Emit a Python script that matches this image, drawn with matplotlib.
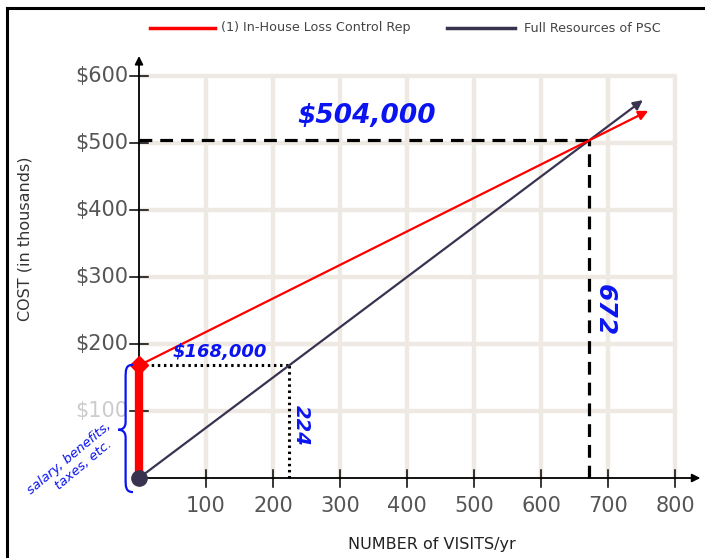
import numpy as np
import matplotlib.pyplot as plt
from matplotlib.lines import Line2D
from matplotlib.path import Path
from matplotlib.patches import PathPatch

# chart values
x_ticks = [100, 200, 300, 400, 500, 600, 700, 800]
y_ticks = [100, 200, 300, 400, 500, 600]
y_tick_labels = ['$100', '$200', '$300', '$400', '$500', '$600']

inhouse_fixed = 168          # thousands
inhouse_rate = 0.5           # thousands per visit
psc_rate = 0.75              # thousands per visit
inhouse_end = 760
psc_end = 752

breakeven_visits = 672
breakeven_cost = 504
equal_visits = 224

red = '#ff0000'
purple = '#3a3350'
blue = '#0a14f0'
grid_col = '#efe9e3'
label_col = '#555555'

fig = plt.figure(figsize=(7.05, 5.58), dpi=100)
ax = fig.add_axes([0, 0, 1, 1])
# pixel -> data: x = 139 + 0.67*X, y = 478 - 0.67*Y
ax.set_xlim(-139 / 0.67, (705 - 139) / 0.67)
ax.set_ylim((478 - 558) / 0.67, 478 / 0.67)
ax.axis('off')

# grid
for gx in x_ticks:
    ax.plot([gx, gx], [0, 600], color=grid_col, lw=3.2, zorder=1, solid_capstyle='round')
for gy in y_ticks:
    ax.plot([0, 800], [gy, gy], color=grid_col, lw=3.2, zorder=1, solid_capstyle='round')

# axes with arrows
ax.annotate('', xy=(0, 634), xytext=(0, 0),
            arrowprops=dict(arrowstyle='-|>', color='black', lw=1.3, mutation_scale=12), zorder=3)
ax.annotate('', xy=(842, 0), xytext=(0, 0),
            arrowprops=dict(arrowstyle='-|>', color='black', lw=1.3, mutation_scale=12), zorder=3)

for gy, lab in zip(y_ticks, y_tick_labels):
    ax.plot([-13, 14], [gy, gy], color='black', lw=1.1, zorder=3)
    ax.text(-16, gy, lab, ha='right', va='center', fontsize=15,
            color='#cccccc' if gy == 100 else label_col, zorder=2)
for gx in x_ticks:
    ax.plot([gx, gx], [-13, 12], color='black', lw=1.1, zorder=3)
    ax.text(gx, -42, str(gx), ha='center', va='center', fontsize=15, color=label_col)

ax.text(-170, 357, 'COST (in thousands)', rotation=90, ha='center', va='center',
        fontsize=11.5, color='#333333')
ax.text(437, -100, 'NUMBER of VISITS/yr', ha='center', va='center',
        fontsize=11.5, color='#222222')

# reference lines
ax.plot([0, breakeven_visits], [breakeven_cost, breakeven_cost], color='black',
        lw=2.3, ls=(0, (4, 2.5)), zorder=4)
ax.plot([breakeven_visits, breakeven_visits], [0, breakeven_cost], color='black',
        lw=2.3, ls=(0, (4, 2.5)), zorder=4)
ax.plot([0, equal_visits], [inhouse_fixed, inhouse_fixed], color='black',
        lw=2.2, ls=(0, (0.8, 1.2)), zorder=4)
ax.plot([equal_visits, equal_visits], [0, inhouse_fixed], color='black',
        lw=2.2, ls=(0, (0.8, 1.2)), zorder=4)

# cost lines
ax.annotate('', xy=(psc_end, psc_rate * psc_end), xytext=(0, 0),
            arrowprops=dict(arrowstyle='-|>', color=purple, lw=1.6, mutation_scale=14,
                            shrinkA=0, shrinkB=0), zorder=5)
ax.annotate('', xy=(inhouse_end, inhouse_fixed + inhouse_rate * inhouse_end),
            xytext=(0, inhouse_fixed),
            arrowprops=dict(arrowstyle='-|>', color=red, lw=1.6, mutation_scale=14,
                            shrinkA=0, shrinkB=0), zorder=5)
ax.plot([0, 0], [0, inhouse_fixed], color=red, lw=6, zorder=6, solid_capstyle='butt')
ax.plot([0], [inhouse_fixed], marker='D', color=red, markersize=9, zorder=6)
ax.plot([0], [0], marker='o', color=purple, markersize=11, zorder=7)

# handwritten notes
ax.text(340, 540, '$504,000', color=blue, fontsize=19, fontweight='bold', style='italic',
        ha='center', va='center', zorder=8)
ax.text(120, 188, '$168,000', color=blue, fontsize=13, fontweight='bold', style='italic',
        ha='center', va='center', zorder=8)
ax.text(243, 79, '224', color=blue, fontsize=14, fontweight='bold', style='italic',
        rotation=-90, ha='center', va='center', zorder=8)
ax.text(695, 251, '672', color=blue, fontsize=18, fontweight='bold', style='italic',
        rotation=-90, ha='center', va='center', zorder=8)
ax.text(-97, 21, 'salary, benefits,\n   taxes, etc.', color=blue, fontsize=9.5, style='italic',
        rotation=40, ha='center', va='center', rotation_mode='anchor', linespacing=1.1)

# curly brace
top, bot, mid = 169, -21, 72
verts = [(-9, top), (-20, top), (-20, top - 8), (-20, top - 20),
         (-20, mid + 12),
         (-20, mid + 2), (-26, mid), (-31, mid),
         (-26, mid), (-20, mid - 2), (-20, mid - 12),
         (-20, bot + 20),
         (-20, bot + 8), (-20, bot), (-9, bot)]
codes = [Path.MOVETO, Path.CURVE4, Path.CURVE4, Path.CURVE4,
         Path.LINETO,
         Path.CURVE4, Path.CURVE4, Path.CURVE4,
         Path.CURVE4, Path.CURVE4, Path.CURVE4,
         Path.LINETO,
         Path.CURVE4, Path.CURVE4, Path.CURVE4]
ax.add_patch(PathPatch(Path(verts, codes), fill=False, edgecolor=blue, lw=1.6, zorder=8))

# legend
fig.add_artist(Line2D([150 / 705, 215 / 705], [1 - 28 / 558] * 2, color=red, lw=2.5))
fig.text(221 / 705, 1 - 28 / 558, '(1) In-House Loss Control Rep', fontsize=9.2,
         color='#444444', va='center')
fig.add_artist(Line2D([447 / 705, 515 / 705], [1 - 28 / 558] * 2, color=purple, lw=2.5))
fig.text(524 / 705, 1 - 28 / 558, 'Full Resources of PSC', fontsize=9.2,
         color='#444444', va='center')

# frame
fig.add_artist(Line2D([7 / 705, 7 / 705], [0, 1 - 8 / 558], color='black', lw=2.2))
fig.add_artist(Line2D([7 / 705, 1], [1 - 8 / 558] * 2, color='black', lw=2.2))

fig.savefig('out.png', dpi=100)
